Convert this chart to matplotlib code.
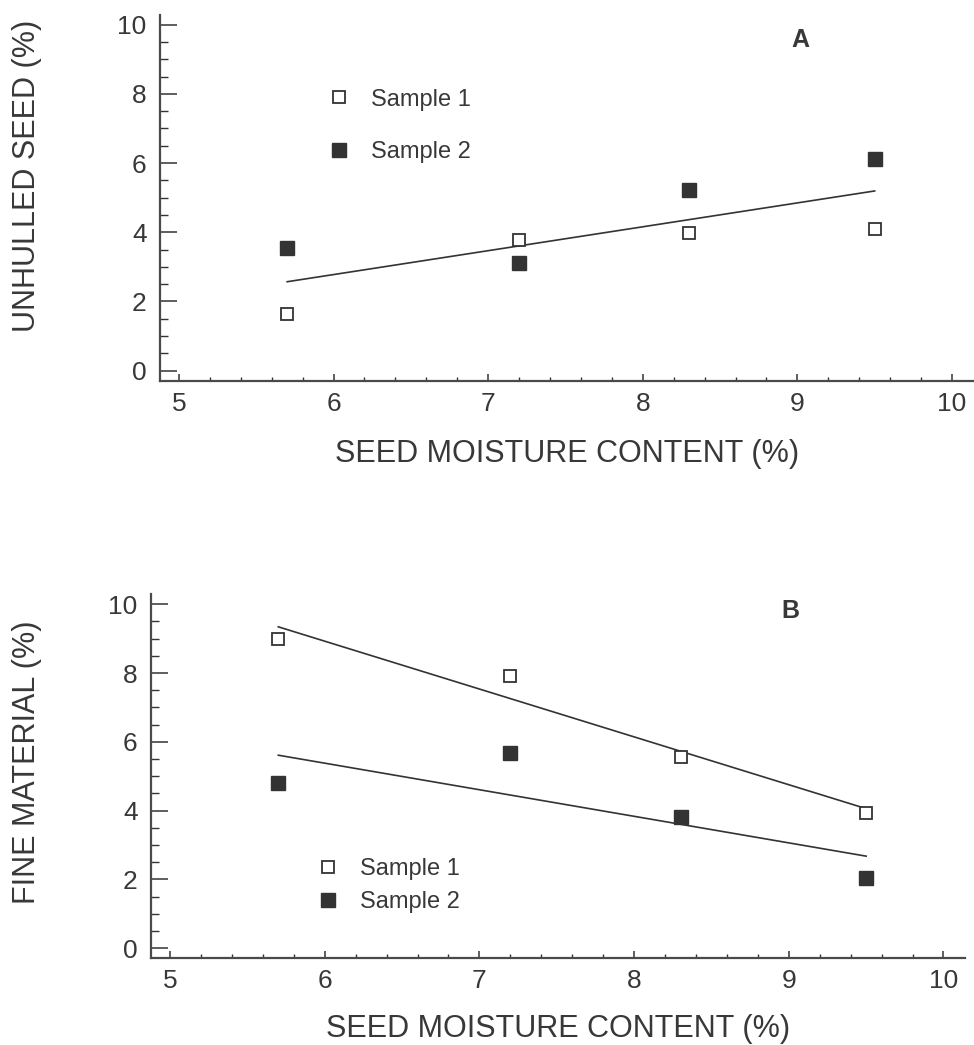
import numpy as np
import matplotlib
matplotlib.use('Agg')
import matplotlib.pyplot as plt
from matplotlib.ticker import MultipleLocator

plt.rcParams['font.family'] = ['Liberation Sans', 'DejaVu Sans']

# values
moisture = [5.7, 7.2, 8.3, 9.5]
unhulled_s1 = [1.65, 3.77, 3.97, 4.09]
unhulled_s2 = [3.54, 3.12, 5.22, 6.11]
fine_s1 = [9.0, 7.92, 5.55, 3.92]
fine_s2 = [4.8, 5.69, 3.81, 2.05]
labels = ['Sample 1', 'Sample 2']

ink = '#333333'
txt = '#383838'

fig = plt.figure(figsize=(9.74, 10.45), dpi=100)
fig.patch.set_facecolor('white')
axA = fig.add_axes([0.1647, 0.6357, 0.8349, 0.3503])
axB = fig.add_axes([0.1555, 0.0830, 0.8354, 0.3483])


def style(ax):
    ax.set_xlim(4.88, 10.14)
    ax.set_ylim(-0.29, 10.29)
    ax.xaxis.set_major_locator(MultipleLocator(1))
    ax.xaxis.set_minor_locator(MultipleLocator(0.2))
    ax.yaxis.set_major_locator(MultipleLocator(2))
    ax.yaxis.set_minor_locator(MultipleLocator(0.5))
    ax.tick_params(axis='x', which='major', direction='in', length=5, width=1.1,
                   pad=8, labelsize=19, color=ink, labelcolor=txt)
    ax.tick_params(axis='x', which='minor', direction='in', length=3, width=1.0, color=ink)
    ax.tick_params(axis='y', which='major', direction='in', length=12, width=1.1,
                   pad=10, labelsize=19, color=ink, labelcolor=txt)
    ax.tick_params(axis='y', which='minor', direction='in', length=6, width=1.0, color=ink)
    for s in ['top', 'right']:
        ax.spines[s].set_visible(False)
    for s in ['left', 'bottom']:
        ax.spines[s].set_color('#4a4a4a')
        ax.spines[s].set_linewidth(1.6)
    ax.set_facecolor('white')


def points(ax, y1, y2):
    h1, = ax.plot(moisture, y1, ls='none', marker='s', ms=9, mfc='white', mec=ink,
                  mew=1.3, label=labels[0], zorder=3)
    h2, = ax.plot(moisture, y2, ls='none', marker='s', ms=9.5, mfc=ink, mec=ink,
                  mew=1.0, label=labels[1], zorder=3)
    return h1, h2


def fit_line(ax, x, y):
    k, b = np.polyfit(x, y, 1)
    xs = np.array([min(moisture), max(moisture)])
    ax.plot(xs, k * xs + b, color=ink, lw=1.2, zorder=2)


# Panel A - unhulled seed, one regression through both samples
style(axA)
points(axA, unhulled_s1, unhulled_s2)
fit_line(axA, moisture * 2, unhulled_s1 + unhulled_s2)
axA.legend(loc='upper left', bbox_to_anchor=(5.957, 8.155), bbox_transform=axA.transData,
           frameon=False, fontsize=17, handlelength=1.0, handletextpad=0.85,
           labelspacing=1.31, borderpad=0, borderaxespad=0, labelcolor=txt)
axA.text(9.02, 9.56, 'A', fontsize=18, fontweight='bold', color=txt,
         ha='center', va='center')
axA.set_xlabel('SEED MOISTURE CONTENT (%)', fontsize=22, color=txt, labelpad=17)
axA.set_ylabel('UNHULLED SEED (%)', fontsize=22, color=txt)
axA.yaxis.set_label_coords(-0.1456, 0.56)

# Panel B - fine material, one regression per sample
style(axB)
points(axB, fine_s1, fine_s2)
fit_line(axB, moisture, fine_s1)
fit_line(axB, moisture, fine_s2)
axB.legend(loc='upper left', bbox_to_anchor=(5.944, 2.61), bbox_transform=axB.transData,
           frameon=False, fontsize=17, handlelength=1.0, handletextpad=0.85,
           labelspacing=0.45, borderpad=0, borderaxespad=0, labelcolor=txt)
axB.text(9.01, 9.81, 'B', fontsize=18, fontweight='bold', color=txt,
         ha='center', va='center')
axB.set_xlabel('SEED MOISTURE CONTENT (%)', fontsize=22, color=txt, labelpad=15)
axB.set_ylabel('FINE MATERIAL (%)', fontsize=22, color=txt)
axB.yaxis.set_label_coords(-0.1345, 0.539)

fig.savefig('out.png', dpi=100, facecolor='white')
